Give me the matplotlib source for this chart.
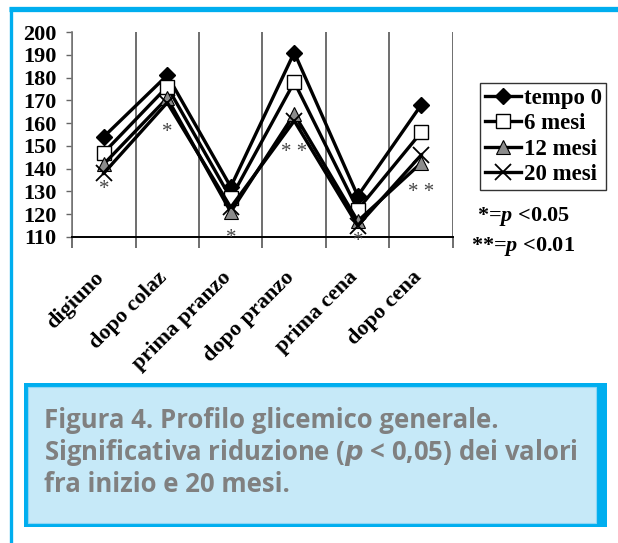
import matplotlib.pyplot as plt
from matplotlib.patches import Rectangle
from matplotlib.lines import Line2D
from matplotlib.transforms import ScaledTranslation

plt.rcParams['font.family'] = 'Liberation Serif'
plt.rcParams['font.weight'] = 'bold'
plt.rcParams['mathtext.fontset'] = 'custom'
plt.rcParams['mathtext.it'] = 'Liberation Serif:italic:bold'
plt.rcParams['mathtext.rm'] = 'Liberation Serif:bold'

# glycemic profile (mg/dl) at the six daily checkpoints
momenti = ['digiuno', 'dopo colaz', 'prima pranzo', 'dopo pranzo', 'prima cena', 'dopo cena']
tempo0 = [154, 181, 132, 191, 128, 168]
mesi6 = [147, 176, 127, 178, 122, 156]
mesi12 = [142, 171, 121, 164, 117, 142.5]
mesi20 = [138, 169, 123, 161, 115, 146]
signif = ['*', '*', '*', '* *', '*', '* *']
signif_y = [131, 156, 109.5, 147, 108, 129.5]

W, H = 618, 543
fig = plt.figure(figsize=(W / 100, H / 100), dpi=100)


def fx(x):
    return x / W


def fy(y):
    return 1 - y / H


blue = '#00aeef'

# page frame: top and left rules
fig.add_artist(Line2D([fx(9), 1], [fy(8.5), fy(8.5)], color=blue, lw=3.8, solid_capstyle='butt'))
fig.add_artist(Line2D([fx(10.5), fx(10.5)], [fy(6.5), 0], color=blue, lw=2.4, solid_capstyle='butt'))

ax = fig.add_axes([fx(72), fy(237), fx(453) - fx(72), fy(32) - fy(237)])
x = [i + 0.5 for i in range(len(momenti))]

ax.plot(x, tempo0, color='black', lw=2.4, marker='D', ms=8, mfc='black', mec='black', label='tempo 0')
ax.plot(x, mesi6, color='black', lw=2.4, marker='s', ms=9.5, mfc='white', mec='black', mew=1, label='6 mesi')
ax.plot(x, mesi12, color='black', lw=2.4, marker='^', ms=10, mfc='#8c8c8c', mec='black', mew=0.8, label='12 mesi')
ax.plot(x, mesi20, color='black', lw=2.4, marker='x', ms=11, mec='black', mew=1.3, label='20 mesi')

for xi, s, yi in zip(x, signif, signif_y):
    ax.text(xi, yi, s, ha='center', va='center', fontsize=15, color='#454545', fontweight='normal')

ax.set_xlim(0, 6)
ax.set_ylim(110, 200)
ax.set_yticks(range(110, 201, 10))
ax.tick_params(axis='y', direction='out', length=4, width=1, color='#666666', labelsize=16, pad=7)

ax.set_xticks(range(0, 7), minor=True)
ax.set_xticks(x)
ax.set_xticklabels(momenti, rotation=45, ha='right', va='top', rotation_mode='anchor', fontsize=16)
ax.tick_params(axis='x', which='major', length=0, pad=22)
ax.tick_params(axis='x', which='minor', direction='out', length=8, width=1.2, color='#555555')
ax.grid(axis='x', which='minor', color='#555555', lw=1.2)
shift = ScaledTranslation(-10 / 100, 0, fig.dpi_scale_trans)
for lab in ax.get_xticklabels():
    lab.set_transform(lab.get_transform() + shift)

for side in ['top', 'right']:
    ax.spines[side].set_visible(False)
ax.spines['left'].set_color('#777777')
ax.spines['left'].set_linewidth(1.2)
ax.spines['bottom'].set_color('black')
ax.spines['bottom'].set_linewidth(1.4)

leg = fig.legend(loc='upper left', bbox_to_anchor=(fx(480), fy(83)), frameon=True, fancybox=False,
                 edgecolor='black', handlelength=1.6, handletextpad=0.1, borderpad=0.2,
                 labelspacing=0.2, borderaxespad=0, prop={'weight': 'bold', 'size': 16.5})
leg.get_frame().set_linewidth(1.0)

fig.text(fx(477), fy(217), '*=$p$ <0.05', fontsize=16, va='center')
fig.text(fx(471), fy(246), '**=$p$ <0.01', fontsize=16, va='center')

# caption box
fig.add_artist(Rectangle((fx(24), fy(527)), fx(607) - fx(24), fy(383) - fy(527),
                         facecolor=blue, edgecolor='none'))
fig.add_artist(Rectangle((fx(27.5), fy(523)), fx(596) - fx(27.5), fy(386.5) - fy(523),
                         facecolor='#c6e9f8', edgecolor='#8fd6f5', lw=0.8))
caption = ['Figura 4. Profilo glicemico generale.',
           'Significativa riduzione ($p$ < 0,05) dei valori',
           'fra inizio e 20 mesi.']
for i, line in enumerate(caption):
    fig.text(fx(44), fy(420 + 32 * i), line, fontsize=18.5, color='#808080', va='center',
             family='Open Sans', fontweight='bold', math_fontfamily='dejavusans')

fig.savefig('out.png', dpi=100)
